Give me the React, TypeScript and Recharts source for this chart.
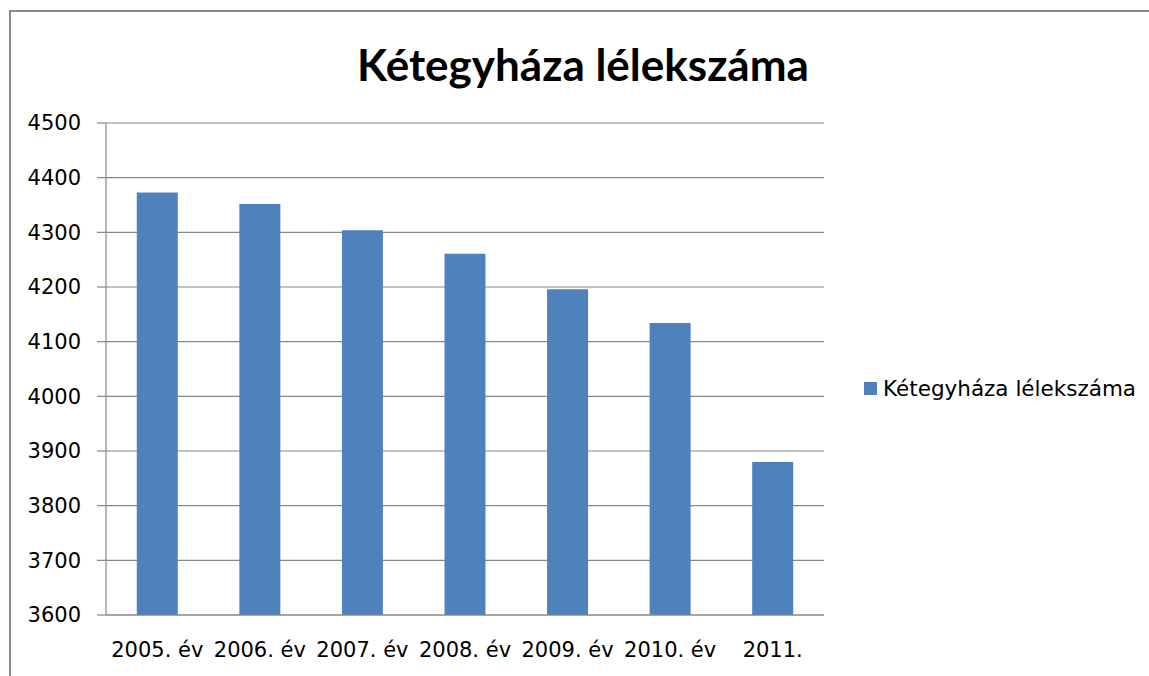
import React from 'react';
import { BarChart, Bar, XAxis, YAxis, CartesianGrid } from 'recharts';

const YEARS = ['2005. év', '2006. év', '2007. év', '2008. év', '2009. év', '2010. év', '2011.'];
const POPULATION = [4373, 4352, 4304, 4261, 4196, 4134, 3880];
const Y_TICKS = [3600, 3700, 3800, 3900, 4000, 4100, 4200, 4300, 4400, 4500];
const BOUNDARIES = [0, 1, 2, 3, 4, 5, 6, 7];

const SERIES = 'Kétegyháza lélekszáma';
const BLUE = '#4f81bd';
const GRAY = '#878787';
const FONT = '"DejaVu Sans", sans-serif';
const TITLE_FONT = 'Lato, "Open Sans", sans-serif';

const data = YEARS.map((y, i) => ({ year: y, idx: i, value: POPULATION[i] }));

export default function App() {
  return (
    <div style={{ position: 'fixed', left: 0, top: 0, width: 1149, height: 676, background: '#fff', overflow: 'hidden' }}>
      <div style={{ position: 'absolute', left: 9, top: 10, width: 1200, height: 720, border: '2px solid #8c8c8c' }} />
      <div style={{
        position: 'absolute', left: 0, top: 36, width: 1166, textAlign: 'center',
        fontFamily: TITLE_FONT, fontWeight: 700, fontSize: 44, lineHeight: '56px', color: '#000',
      }}>
        {SERIES}
      </div>
      <div style={{ position: 'absolute', left: 0, top: 0 }}>
        <BarChart width={1149} height={676} data={data}
                  margin={{ top: 123, right: 325, bottom: 20, left: 10 }}
                  barCategoryGap="30%">
          <CartesianGrid vertical={false} stroke={GRAY} strokeWidth={1.2} />
          <XAxis xAxisId="b" type="number" domain={[0, 7]} ticks={BOUNDARIES} allowDataOverflow
                 height={1} tick={false} tickSize={8} stroke={GRAY} strokeWidth={1.2} />
          <XAxis xAxisId="cat" dataKey="year" height={40} axisLine={false} tickLine={false}
                 tickSize={7} tickMargin={19} interval={0}
                 tick={{ fill: '#000', fontSize: 21, fontFamily: FONT }} />
          <YAxis domain={[3600, 4500]} ticks={Y_TICKS} width={96} tickSize={9} tickMargin={16}
                 stroke={GRAY} strokeWidth={1.2}
                 tick={{ fill: '#000', fontSize: 21, fontFamily: FONT }} />
          <Bar xAxisId="cat" dataKey="value" name={SERIES} fill={BLUE} isAnimationActive={false} />
        </BarChart>
      </div>
      <div style={{
        position: 'absolute', left: 864, top: 374, height: 28, display: 'flex', alignItems: 'center',
        fontFamily: FONT, fontSize: 21.5, color: '#000', whiteSpace: 'nowrap',
      }}>
        <span style={{ width: 13, height: 13, background: BLUE, display: 'inline-block', marginRight: 6 }} />
        <span>{SERIES}</span>
      </div>
    </div>
  );
}
